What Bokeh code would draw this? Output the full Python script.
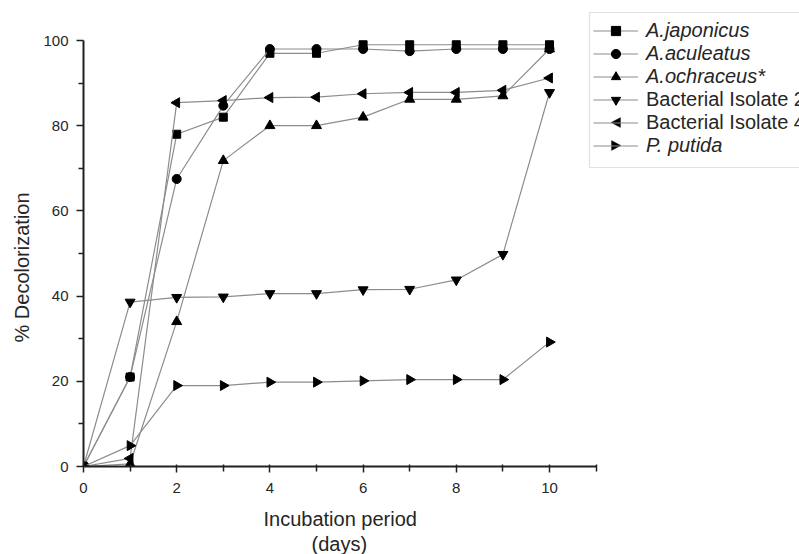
import math
from bokeh.plotting import figure
from bokeh.models import (Range1d, FixedTicker, Legend, LegendItem, BoxAnnotation,
                          PolyAnnotation, Title)
from bokeh.embed import file_html
from bokeh.resources import INLINE

days = [0, 1, 2, 3, 4, 5, 6, 7, 8, 9, 10]
japonicus = [0, 21, 78, 82, 97, 97, 99, 99, 99, 99, 99]
aculeatus = [0, 21, 67.5, 84.7, 98, 98, 98, 97.5, 98, 98, 98]
ochraceus = [0, 0.6, 34, 71.8, 80, 80, 82, 86.2, 86.2, 87, 98]
isolate2 = [0, 38.6, 39.7, 39.8, 40.6, 40.6, 41.5, 41.6, 43.8, 49.8, 87.8]
isolate4 = [0, 1.9, 85.4, 85.9, 86.6, 86.7, 87.5, 87.8, 87.8, 88.3, 91.2]
putida = [0, 4.9, 19, 19, 19.8, 19.8, 20.1, 20.4, 20.4, 20.4, 29.2]

series_names = ["A.japonicus", "A.aculeatus", "A.ochraceus*",
                "Bacterial Isolate 2", "Bacterial Isolate 4", "P. putida"]

x_major = [0, 2, 4, 6, 8, 10]
x_minor = [1, 3, 5, 7, 9, 11]
y_major = [0, 20, 40, 60, 80, 100]
y_minor = [10, 30, 50, 70, 90]

FONT = "Liberation Sans"
TXT = "#262626"
AX = "#202020"

p = figure(width=799, height=554, output_backend="svg", toolbar_location=None,
           x_range=Range1d(0, 15.365), y_range=Range1d(0, 109.39),
           min_border_left=83, min_border_right=0, min_border_top=0, min_border_bottom=88)
p.outline_line_color = None
p.grid.visible = False

for ax in (p.xaxis[0], p.yaxis[0]):
    ax.axis_line_width = 2
    ax.axis_line_color = AX
    ax.major_tick_line_color = AX
    ax.minor_tick_line_color = AX
    ax.major_tick_line_width = 1.5
    ax.minor_tick_line_width = 1.5
    ax.major_label_text_font = FONT
    ax.major_label_text_font_size = "15px"
    ax.major_label_text_color = TXT

xa = p.xaxis[0]
xa.bounds = (0, 11)
xa.ticker = FixedTicker(ticks=x_major, minor_ticks=x_minor)
xa.major_tick_in = 2
xa.major_tick_out = 6
xa.minor_tick_in = 2
xa.minor_tick_out = 5
xa.major_label_standoff = 10

ya = p.yaxis[0]
ya.bounds = (0, 100)
ya.ticker = FixedTicker(ticks=y_major, minor_ticks=y_minor)
ya.major_tick_in = 0
ya.major_tick_out = 7
ya.minor_tick_in = 0
ya.minor_tick_out = 5
ya.major_label_standoff = 8

def title(text, **kw):
    return Title(text=text, text_font=FONT, text_font_size="20px",
                 text_font_style="normal", text_color=TXT, align="left", **kw)

# axis titles, centred on the drawn axes (not on the wider plot area) as in the reference
p.add_layout(title("Incubation period", offset=180, standoff=20), "below")
p.add_layout(title("(days)", offset=228, standoff=-18), "below")
p.add_layout(title("% Decolorization", offset=124, standoff=15), "left")

values = [japonicus, aculeatus, ochraceus, isolate2, isolate4, putida]
markers = ["square", "circle", "triangle", "inverted_triangle", "triangle", "triangle"]
angles = [0, 0, 0, 0, math.pi / 2, -math.pi / 2]
sizes = [8, 9, 10, 10, 10, 10]

items = []
for name, vals, marker, ang, size in zip(series_names, values, markers, angles, sizes):
    lr = p.line(days, vals, line_color="#8c8c8c", line_width=1.2)
    sr = p.scatter(days, vals, marker=marker, size=size, angle=ang,
                   fill_color="black", line_color="black")
    # legend glyphs are never rotated by Bokeh, so rotated keys are drawn separately
    items.append(LegendItem(label=name, renderers=[lr, sr] if ang == 0 else [lr]))

def make_legend(its, style, y):
    lg = Legend(items=its, location=(510, y), orientation="vertical",
                glyph_width=45, glyph_height=23, label_height=23, label_width=20,
                label_standoff=8, spacing=0, padding=0, margin=0,
                label_text_font=FONT, label_text_font_size="20px",
                label_text_font_style=style, label_text_color=TXT,
                border_line_color=None, background_fill_alpha=0)
    p.add_layout(lg, "center")

make_legend(items[0:3], "italic", 378.5)
make_legend(items[3:5], "normal", 332.5)
make_legend(items[5:6], "italic", 309.5)

# legend keys for left / right pointing triangles (canvas pixels)
p.add_layout(PolyAnnotation(xs=[610.5, 620, 620], ys=[122, 117, 127],
                            xs_units="canvas", ys_units="canvas",
                            fill_color="black", fill_alpha=1, line_color="black"))
p.add_layout(PolyAnnotation(xs=[620.5, 611, 611], ys=[145, 140, 150],
                            xs_units="canvas", ys_units="canvas",
                            fill_color="black", fill_alpha=1, line_color="black"))

p.add_layout(BoxAnnotation(left=589, right=840, top=12, bottom=167,
                           left_units="canvas", right_units="canvas",
                           top_units="canvas", bottom_units="canvas",
                           fill_alpha=0, line_color="#9a9a9a", line_width=1.2))

open("out.html", "w").write(file_html(p, INLINE))
